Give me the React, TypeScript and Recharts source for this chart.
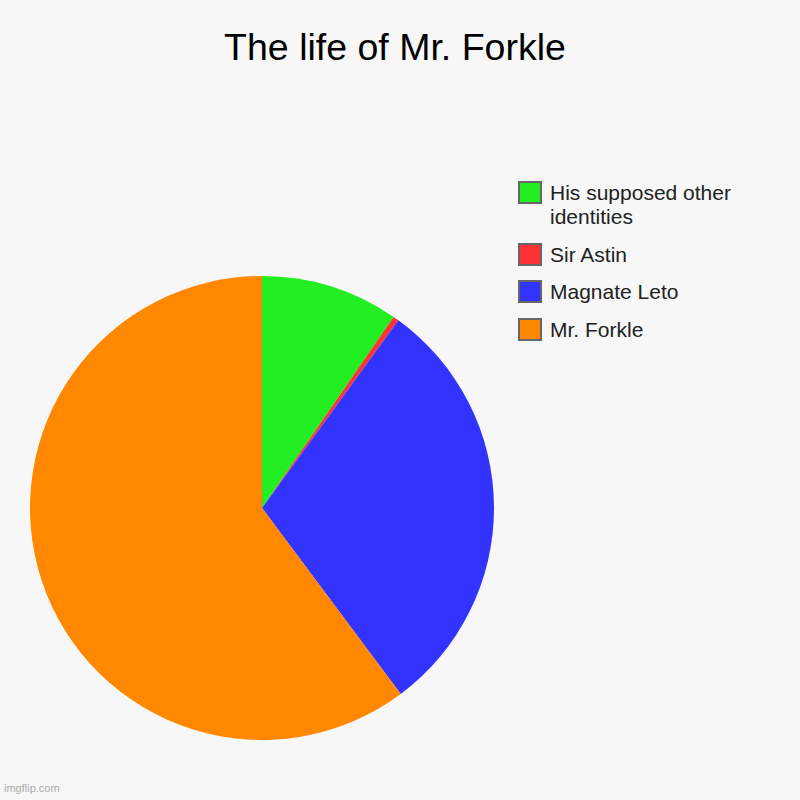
import { PieChart, Pie, Cell, Legend } from 'recharts';

const NAMES = ['His supposed other identities', 'Sir Astin', 'Magnate Leto', 'Mr. Forkle'];
const VALUES = [9.6, 0.4, 29.8, 60.2];
const COLORS = ['#22ee22', '#ff3333', '#3333ff', '#ff8800'];

const data = NAMES.map((name, i) => ({ name, value: VALUES[i], fill: COLORS[i] }));

const FONT = 'Arial, "Liberation Sans", Helvetica, sans-serif';

function ChartLegend() {
  return (
    <div style={{ fontFamily: FONT, fontSize: 21, lineHeight: '24px', color: '#222' }}>
      {data.map((d) => (
        <div key={d.name} style={{ display: 'flex', alignItems: 'flex-start', marginBottom: 13.5 }}>
          <div
            style={{
              width: 20,
              height: 19,
              background: d.fill,
              border: '2px solid #666',
              flex: 'none',
            }}
          />
          <div style={{ marginLeft: 8, width: 230 }}>{d.name}</div>
        </div>
      ))}
    </div>
  );
}

export default function App() {
  return (
    <div
      style={{
        position: 'absolute',
        left: 0,
        top: 0,
        width: 800,
        height: 800,
        background: '#f7f7f7',
        overflow: 'hidden',
      }}
    >
      <div
        style={{
          position: 'absolute',
          top: 26,
          left: 0,
          width: 790,
          textAlign: 'center',
          fontFamily: FONT,
          fontSize: 37.5,
          color: '#000',
        }}
      >
        The life of Mr. Forkle
      </div>
      <PieChart
        width={800}
        height={800}
        margin={{ top: 0, right: 0, bottom: 0, left: 0 }}
        style={{ position: 'absolute', left: 0, top: 0 }}
      >
        <Pie
          data={data}
          dataKey="value"
          nameKey="name"
          cx={262}
          cy={508}
          outerRadius={232}
          startAngle={90}
          endAngle={-270}
          stroke="none"
          isAnimationActive={false}
        >
          {data.map((d) => (
            <Cell key={d.name} fill={d.fill} />
          ))}
        </Pie>
        <Legend
          content={() => <ChartLegend />}
          wrapperStyle={{ position: 'absolute', left: 518, top: 181, width: 270 }}
        />
      </PieChart>
      <div
        style={{
          position: 'absolute',
          left: 4,
          top: 782,
          fontFamily: FONT,
          fontSize: 11,
          color: '#aaa',
        }}
      >
        imgflip.com
      </div>
    </div>
  );
}
